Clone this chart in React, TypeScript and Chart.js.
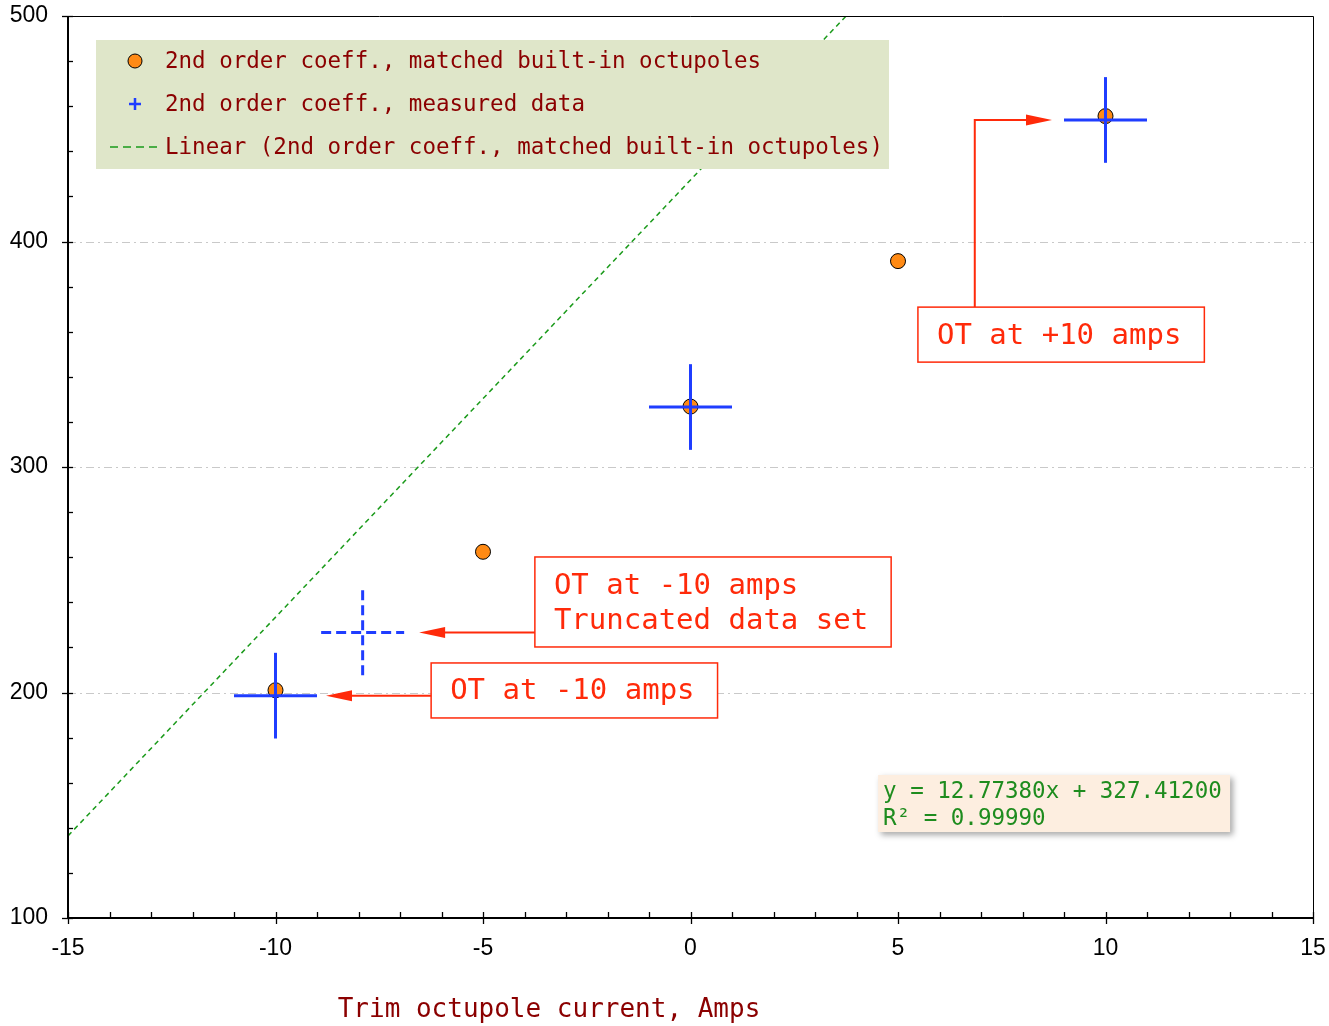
import React, { useEffect, useRef } from 'react';
import { Chart, registerables } from 'chart.js';

Chart.register(...registerables);

// ---------- data ----------
const xMin = -15;
const xMax = 15;
const xStep = 5;
const xMinorStep = 1;
const yMin = 100;
const yMax = 500;
const yStep = 100;
const yMinorStep = 20;
const gridValues = [200, 300, 400];

const matchedX = [-10, -5, 0, 5, 10];
const matchedY = [201, 262.4, 326.8, 391.3, 455.6];

const measuredX = [-10, -7.9, 0, 10];
const measuredY = [198.6, 226.6, 326.6, 453.9];
const measuredXErr = [1, 1, 1, 1];
const measuredYErr = [19, 19, 19, 19];
const measuredDashed = [false, true, false, false];

const trendX = [-15, 3.75];
const trendY = [136.4, 500];

const legendLabels = [
  '2nd order coeff., matched built-in octupoles',
  '2nd order coeff., measured data',
  'Linear (2nd order coeff., matched built-in octupoles)',
];
const equationLines = ['y = 12.77380x + 327.41200', 'R\u00B2 = 0.99990'];
const equationPos = [4.52, 163.4];
const xTitle = 'Trim octupole current, Amps';

const calloutLines = [['OT at +10 amps'], ['OT at -10 amps', 'Truncated data set'], ['OT at -10 amps']];
const calloutBoxX = [5.48, -3.75, -6.25];
const calloutBoxY = [370.9, 260.1, 213.1];
const calloutTarget = [3, 1, 0];
const calloutElbowX = [6.85, null, null];
const calloutGap = [12, 15, 9];

// ---------- styles ----------
const MONO = '"DejaVu Sans Mono", monospace';
const SANS = '"Liberation Sans", Arial, sans-serif';
const ORANGE = '#ff8a14';
const BLUE = '#1f3dff';
const GREEN = '#1a9a1a';
const EQ_GREEN = '#1e8c1e';
const RED = '#ff2a0a';
const MAROON = '#8b0000';

function arrowHead(ctx: CanvasRenderingContext2D, tx: number, ty: number, dir: number) {
  const len = 26;
  const hw = 5.5;
  ctx.beginPath();
  ctx.moveTo(tx, ty);
  ctx.lineTo(tx - dir * len, ty - hw);
  ctx.lineTo(tx - dir * len, ty + hw);
  ctx.closePath();
  ctx.fill();
}

const overlay = {
  id: 'overlay',
  beforeDatasetsDraw(chart: any) {
    const { ctx, chartArea: ca, scales } = chart;
    const y = scales.y;
    ctx.save();
    ctx.strokeStyle = '#c9c9c9';
    ctx.lineWidth = 1;
    ctx.setLineDash([8, 4, 2, 4]);
    for (const v of gridValues) {
      const py = Math.round(y.getPixelForValue(v)) + 0.5;
      ctx.beginPath();
      ctx.moveTo(ca.left, py);
      ctx.lineTo(ca.right, py);
      ctx.stroke();
    }
    ctx.restore();
  },
  afterDatasetsDraw(chart: any) {
    const { ctx, chartArea: ca, scales } = chart;
    const x = scales.x;
    const y = scales.y;
    ctx.save();

    // frame
    ctx.strokeStyle = '#000';
    ctx.lineWidth = 1;
    ctx.beginPath();
    ctx.moveTo(ca.left, ca.top + 0.5);
    ctx.lineTo(ca.right + 0.5, ca.top + 0.5);
    ctx.lineTo(ca.right + 0.5, ca.bottom);
    ctx.stroke();
    ctx.lineWidth = 2;
    ctx.beginPath();
    ctx.moveTo(ca.left, ca.top);
    ctx.lineTo(ca.left, ca.bottom);
    ctx.lineTo(ca.right, ca.bottom);
    ctx.stroke();

    // ticks
    ctx.lineWidth = 1.3;
    for (let v = xMin; v <= xMax + 1e-9; v += xMinorStep) {
      const px = Math.round(x.getPixelForValue(v)) + 0.5;
      const major = Math.abs(v % xStep) < 1e-9;
      ctx.beginPath();
      ctx.moveTo(px, ca.bottom - 6);
      ctx.lineTo(px, ca.bottom + (major ? 6 : 0));
      ctx.stroke();
    }
    for (let v = yMin; v <= yMax + 1e-9; v += yMinorStep) {
      const py = Math.round(y.getPixelForValue(v)) + 0.5;
      const major = Math.abs(v % yStep) < 1e-9;
      ctx.beginPath();
      ctx.moveTo(ca.left - (major ? 6 : 0), py);
      ctx.lineTo(ca.left + 5, py);
      ctx.stroke();
    }

    // legend
    const lx = ca.left + 28;
    const ly = ca.top + 24;
    ctx.fillStyle = '#dfe6c9';
    ctx.fillRect(lx, ly, 793, 129);
    ctx.font = `22.5px ${MONO}`;
    ctx.textBaseline = 'middle';
    ctx.textAlign = 'left';
    legendLabels.forEach((label, i) => {
      const cy = ly + 21 + i * 43;
      if (i === 0) {
        ctx.beginPath();
        ctx.arc(lx + 39, cy, 7, 0, Math.PI * 2);
        ctx.fillStyle = ORANGE;
        ctx.fill();
        ctx.lineWidth = 1;
        ctx.strokeStyle = '#000';
        ctx.stroke();
      } else if (i === 1) {
        ctx.strokeStyle = BLUE;
        ctx.lineWidth = 2.5;
        ctx.beginPath();
        ctx.moveTo(lx + 33, cy);
        ctx.lineTo(lx + 45, cy);
        ctx.moveTo(lx + 39, cy - 6);
        ctx.lineTo(lx + 39, cy + 6);
        ctx.stroke();
      } else {
        ctx.strokeStyle = GREEN;
        ctx.lineWidth = 1.5;
        ctx.setLineDash([8, 5]);
        ctx.beginPath();
        ctx.moveTo(lx + 14, cy);
        ctx.lineTo(lx + 66, cy);
        ctx.stroke();
        ctx.setLineDash([]);
      }
      ctx.fillStyle = MAROON;
      ctx.fillText(label, lx + 69, cy + 1);
    });

    // callouts
    ctx.font = `29px ${MONO}`;
    calloutLines.forEach((lines, i) => {
      const bx = x.getPixelForValue(calloutBoxX[i]);
      const by = y.getPixelForValue(calloutBoxY[i]);
      const tw = Math.max(...lines.map((l) => ctx.measureText(l).width));
      const bw = tw + 42;
      const bh = 20 + lines.length * 35;
      ctx.fillStyle = '#fff';
      ctx.fillRect(bx, by, bw, bh);
      ctx.strokeStyle = RED;
      ctx.lineWidth = 1.5;
      ctx.strokeRect(bx, by, bw, bh);
      ctx.fillStyle = RED;
      lines.forEach((l, k) => ctx.fillText(l, bx + 19, by + 29 + k * 35));

      const t = calloutTarget[i];
      const ty = y.getPixelForValue(measuredY[t]);
      ctx.lineWidth = 2;
      const ex = calloutElbowX[i];
      if (ex !== null) {
        const tip = x.getPixelForValue(measuredX[t] - measuredXErr[t]) - calloutGap[i];
        const sx = x.getPixelForValue(ex);
        ctx.beginPath();
        ctx.moveTo(sx, by);
        ctx.lineTo(sx, ty);
        ctx.lineTo(tip - 20, ty);
        ctx.stroke();
        arrowHead(ctx, tip, ty, 1);
      } else {
        const tip = x.getPixelForValue(measuredX[t] + measuredXErr[t]) + calloutGap[i];
        ctx.beginPath();
        ctx.moveTo(bx, ty);
        ctx.lineTo(tip + 20, ty);
        ctx.stroke();
        arrowHead(ctx, tip, ty, -1);
      }
    });

    // equation box
    const ex0 = x.getPixelForValue(equationPos[0]);
    const ey0 = y.getPixelForValue(equationPos[1]);
    ctx.save();
    ctx.shadowColor = 'rgba(0,0,0,0.35)';
    ctx.shadowBlur = 6;
    ctx.shadowOffsetX = 3;
    ctx.shadowOffsetY = 3;
    ctx.fillStyle = '#fdeee0';
    ctx.fillRect(ex0, ey0, 352, 57);
    ctx.restore();
    ctx.font = `22.5px ${MONO}`;
    ctx.fillStyle = EQ_GREEN;
    equationLines.forEach((l, k) => ctx.fillText(l, ex0 + 5, ey0 + 17 + k * 27));

    // x axis title
    ctx.font = `26px ${MONO}`;
    ctx.fillStyle = MAROON;
    ctx.textAlign = 'center';
    ctx.fillText(xTitle, 549, 1010);

    ctx.restore();
  },
};

export default function App() {
  const ref = useRef<HTMLCanvasElement | null>(null);

  useEffect(() => {
    if (!ref.current) return;
    const crossSets: any[] = [];
    measuredX.forEach((mx, i) => {
      const my = measuredY[i];
      const base = {
        type: 'line',
        showLine: true,
        borderColor: BLUE,
        backgroundColor: BLUE,
        borderWidth: 3,
        borderDash: measuredDashed[i] ? [10, 5] : [],
        pointRadius: 0,
        order: 1,
      };
      crossSets.push({
        ...base,
        label: 'h' + i,
        data: [
          { x: mx - measuredXErr[i], y: my },
          { x: mx + measuredXErr[i], y: my },
        ],
      });
      crossSets.push({
        ...base,
        label: 'v' + i,
        data: [
          { x: mx, y: my - measuredYErr[i] },
          { x: mx, y: my + measuredYErr[i] },
        ],
      });
    });

    const chart = new Chart(ref.current, {
      type: 'scatter',
      data: {
        datasets: [
          {
            type: 'line',
            label: legendLabels[2],
            data: trendX.map((v, i) => ({ x: v, y: trendY[i] })),
            borderColor: GREEN,
            borderWidth: 1.5,
            borderDash: [5, 4],
            pointRadius: 0,
            showLine: true,
            order: 3,
          },
          {
            type: 'scatter',
            label: legendLabels[0],
            data: matchedX.map((v, i) => ({ x: v, y: matchedY[i] })),
            pointRadius: 7.5,
            pointBackgroundColor: ORANGE,
            pointBorderColor: '#000',
            pointBorderWidth: 1,
            order: 2,
          },
          ...crossSets,
        ] as any,
      },
      options: {
        animation: false,
        responsive: true,
        maintainAspectRatio: false,
        layout: { padding: { top: 16, right: 16, left: 0, bottom: 0 } },
        plugins: { legend: { display: false }, tooltip: { enabled: false } },
        scales: {
          x: {
            type: 'linear',
            min: xMin,
            max: xMax,
            ticks: { stepSize: xStep, color: '#000', font: { family: SANS, size: 23 }, padding: 17, maxRotation: 0 },
            grid: { display: false, drawTicks: false },
            border: { display: false },
            afterFit: (s: any) => {
              s.height = 108;
              s.paddingLeft = 0;
              s.paddingRight = 0;
            },
          },
          y: {
            type: 'linear',
            min: yMin,
            max: yMax,
            ticks: { stepSize: yStep, color: '#000', font: { family: SANS, size: 23 }, padding: 20 },
            grid: { display: false, drawTicks: false },
            border: { display: false },
            afterFit: (s: any) => {
              s.width = 68;
              s.paddingTop = 0;
              s.paddingBottom = 0;
            },
          },
        },
      },
      plugins: [overlay],
    });
    return () => chart.destroy();
  }, []);

  return (
    <div style={{ position: 'fixed', left: 0, top: 0, width: 1329, height: 1026, background: '#fff' }}>
      <canvas ref={ref} />
    </div>
  );
}
